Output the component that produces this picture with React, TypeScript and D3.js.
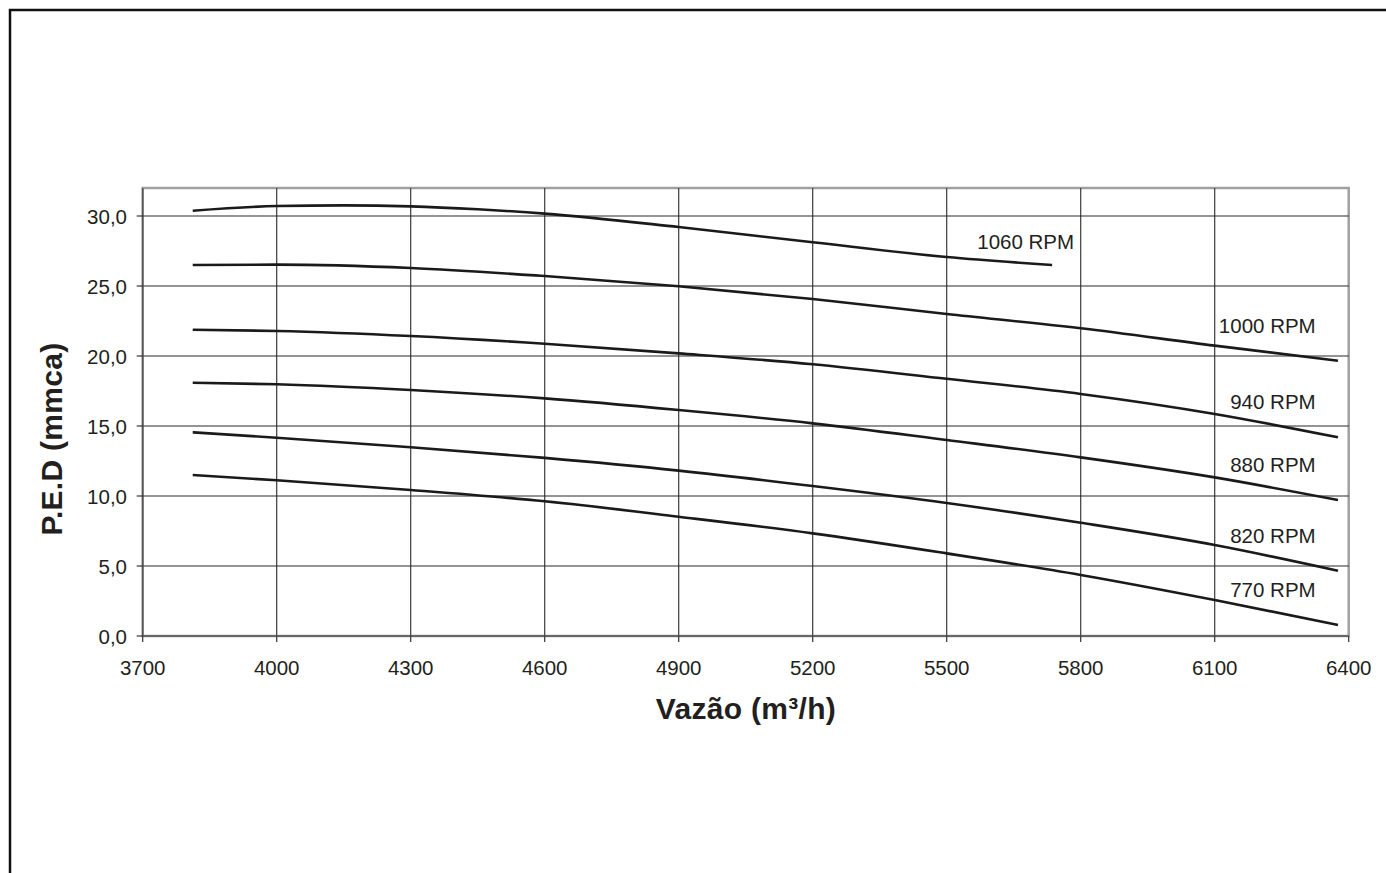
import React from "react";
import * as d3 from "d3";

const flows = [3812, 4000, 4300, 4600, 4900, 5200, 5500, 5800, 6100, 6376];
const flows1060 = [3812, 4000, 4150, 4300, 4450, 4600, 4900, 5200, 5500, 5736];

const rpm1060 = [30.38, 30.71, 30.76, 30.69, 30.48, 30.17, 29.21, 28.12, 27.07, 26.5];
const rpm1000 = [26.5, 26.53, 26.29, 25.71, 24.98, 24.07, 23.0, 21.98, 20.74, 19.66];
const rpm940 = [21.88, 21.79, 21.43, 20.88, 20.19, 19.41, 18.37, 17.29, 15.86, 14.19];
const rpm880 = [18.09, 17.98, 17.57, 16.97, 16.14, 15.19, 14.0, 12.76, 11.33, 9.71];
const rpm820 = [14.55, 14.16, 13.48, 12.72, 11.81, 10.71, 9.5, 8.09, 6.5, 4.66];
const rpm770 = [11.5, 11.12, 10.43, 9.62, 8.52, 7.33, 5.9, 4.36, 2.57, 0.79];

const seriesNames = ["1060 RPM", "1000 RPM", "940 RPM", "880 RPM", "820 RPM", "770 RPM"];

const xTicks = [3700, 4000, 4300, 4600, 4900, 5200, 5500, 5800, 6100, 6400];
const yTicks = [0, 5, 10, 15, 20, 25, 30];

const xTitle = "Vazão (m³/h)";
const yTitle = "P.E.D (mmca)";

const FONT = "'Liberation Sans', Arial, Helvetica, sans-serif";

export default function App() {
  const W = 1386;
  const H = 873;
  const left = 142.7;
  const right = 1348.7;
  const top = 188;
  const bottom = 636;

  const x = d3.scaleLinear().domain([3700, 6400]).range([left, right]);
  const y = d3.scaleLinear().domain([0, 32]).range([bottom, top]);

  const line = d3
    .line<[number, number]>()
    .x((d) => x(d[0]))
    .y((d) => y(d[1]))
    .curve(d3.curveMonotoneX);

  const series = [
    { name: seriesNames[0], xs: flows1060, ys: rpm1060 },
    { name: seriesNames[1], xs: flows, ys: rpm1000 },
    { name: seriesNames[2], xs: flows, ys: rpm940 },
    { name: seriesNames[3], xs: flows, ys: rpm880 },
    { name: seriesNames[4], xs: flows, ys: rpm820 },
    { name: seriesNames[5], xs: flows, ys: rpm770 },
  ];

  const fmt = (v: number) => v.toFixed(1).replace(".", ",");

  return (
    <svg
      width={W}
      height={H}
      style={{ position: "absolute", left: 0, top: 0, background: "#fff" }}
      fontFamily={FONT}
    >
      <rect x={0} y={0} width={W} height={H} fill="#fff" />
      {/* outer frame */}
      <rect x={10} y={10} width={W + 20} height={H + 20} fill="none" stroke="#111" strokeWidth={2.5} />

      {/* plot area border */}
      <rect
        x={left}
        y={top}
        width={right - left}
        height={bottom - top}
        fill="#fff"
        stroke="#a0a0a0"
        strokeWidth={2.5}
      />

      {/* gridlines */}
      {xTicks.slice(1, -1).map((t) => (
        <line key={"gx" + t} x1={x(t)} x2={x(t)} y1={top} y2={bottom} stroke="#3a3a3a" strokeWidth={1.2} />
      ))}
      {yTicks.slice(1).map((t) => (
        <line key={"gy" + t} x1={left} x2={right} y1={y(t)} y2={y(t)} stroke="#2a2a2a" strokeWidth={1.2} />
      ))}

      {/* axes */}
      <line x1={left} x2={left} y1={top} y2={bottom} stroke="#555" strokeWidth={1.5} />
      <line x1={left} x2={right} y1={bottom} y2={bottom} stroke="#555" strokeWidth={1.5} />

      {/* y ticks */}
      {yTicks.map((t) => (
        <g key={"yt" + t}>
          <line x1={left - 6} x2={left} y1={y(t)} y2={y(t)} stroke="#333" strokeWidth={1.2} />
          <text x={127} y={y(t) + 7.5} textAnchor="end" fontSize={20.5} fill="#231f20">
            {fmt(t)}
          </text>
        </g>
      ))}

      {/* x ticks */}
      {xTicks.map((t) => (
        <g key={"xt" + t}>
          <line x1={x(t)} x2={x(t)} y1={bottom} y2={bottom + 6} stroke="#333" strokeWidth={1.2} />
          <text x={x(t)} y={674.5} textAnchor="middle" fontSize={20.5} fill="#231f20">
            {t}
          </text>
        </g>
      ))}

      {/* curves */}
      {series.map((s) => (
        <path
          key={s.name}
          d={line(s.xs.map((v, i) => [v, s.ys[i]] as [number, number])) || ""}
          fill="none"
          stroke="#1a1a1a"
          strokeWidth={2.6}
        />
      ))}

      {/* series labels */}
      {series.map((s, i) => {
        const n = s.xs.length - 1;
        const ex = x(s.xs[n]);
        const ey = y(s.ys[n]);
        const lx = i === 0 ? ex + 22 : x(6400) - 33;
        const ly = i === 0 ? ey - 16 : ey - 28;
        return (
          <text key={"l" + s.name} x={lx} y={ly} textAnchor="end" fontSize={20.5} fill="#231f20">
            {s.name}
          </text>
        );
      })}

      {/* axis titles */}
      <text x={746} y={719} textAnchor="middle" fontSize={30} fontWeight="bold" fill="#231f20" letterSpacing={0.3}>
        {xTitle}
      </text>
      <text
        transform={`translate(62, 439) rotate(-90)`}
        textAnchor="middle"
        fontSize={30}
        fontWeight="bold"
        fill="#231f20"
        letterSpacing={0.3}
      >
        {yTitle}
      </text>
    </svg>
  );
}
